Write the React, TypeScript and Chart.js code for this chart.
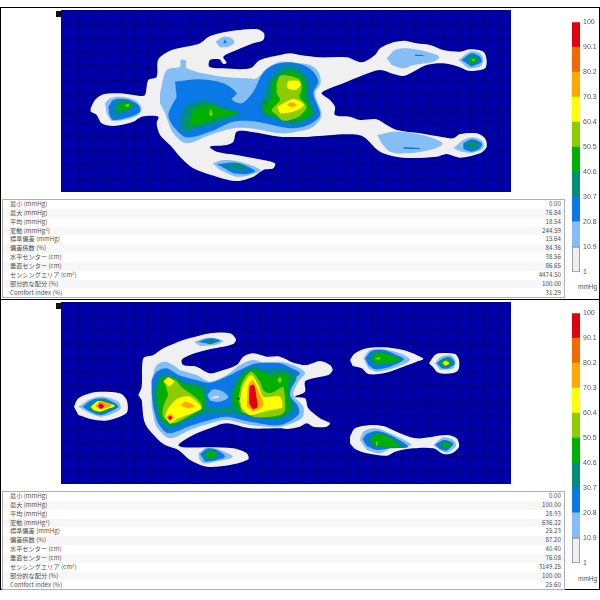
import React, { useEffect, useRef } from "react";
import { Chart, registerables } from "chart.js";

Chart.register(...registerables);

type Pt = [number, number];
type Poly = Pt[];

// Colour band palette, lowest to highest
const bandEdges = [1, 10.9, 20.8, 30.7, 40.6, 50.5, 60.4, 70.3, 80.2, 90.1, 100];
const bandLabels = ["1", "10.9", "20.8", "30.7", "40.6", "50.5", "60.4", "70.3", "80.2", "90.1", "100"];
const bandColors = ["#f0f0f0", "#85bdf5", "#0a78e6", "#008f78", "#00b000", "#8ccc00", "#ffff00", "#fba800", "#f06a00", "#e00010"];
const spotColor = "#1f6a4a";

const metricLabels = ["最小 (mmHg)", "最大 (mmHg)", "平均 (mmHg)", "変動 (mmHg²)", "標準偏差 (mmHg)", "偏差係数 (%)", "水平センター (cm)", "垂直センター (cm)", "センシングエリア (cm²)", "部分的な配分 (%)", "Comfort index (%)"];
const topValues = ["0.00", "76.84", "18.54", "244.59", "15.64", "84.36", "38.56", "86.65", "4474.50", "100.00", "31.29"];
const bottomValues = ["0.00", "100.00", "28.93", "636.22", "25.23", "87.20", "40.40", "76.08", "3149.25", "100.00", "25.60"];

// Top map: contour outlines for each pressure band
const topWhite: Poly[] = [[[122,325],[135,300],[160,283],[210,280],[270,288],[285,285],[295,240],[320,230],[325,178],[365,150],[420,138],[450,130],[480,108],[530,95],[620,87],[642,100],[640,120],[610,130],[560,150],[520,170],[530,188],[520,192],[508,178],[480,180],[478,200],[520,205],[600,205],[630,180],[690,165],[720,160],[750,165],[810,172],[890,172],[935,187],[975,165],[990,145],[1030,127],[1065,122],[1100,130],[1140,135],[1180,150],[1230,155],[1260,148],[1300,155],[1310,180],[1305,205],[1260,213],[1225,200],[1180,190],[1130,195],[1090,215],[1060,228],[1030,222],[990,210],[940,225],[880,250],[840,265],[815,280],[840,300],[855,320],[855,345],[900,350],[930,360],[980,358],[1010,375],[1040,390],[1110,400],[1180,412],[1210,415],[1230,402],[1280,400],[1305,415],[1310,440],[1290,460],[1230,473],[1190,462],[1160,470],[1060,473],[990,455],[940,410],[890,403],[780,410],[690,410],[600,395],[560,395],[550,425],[530,435],[480,440],[500,455],[560,465],[640,480],[675,490],[670,505],[640,510],[610,530],[560,543],[500,530],[430,505],[390,470],[365,440],[330,405],[320,370],[325,350],[275,350],[250,365],[190,378],[155,370],[140,345],[122,335]]];
const topLight: Poly[] = [
  [[165,310],[180,295],[210,290],[255,300],[275,325],[265,345],[230,358],[185,362],[170,340]],
  [[497,125],[520,110],[545,115],[553,128],[535,140],[510,142]],
  [[330,280],[350,210],[390,200],[392,180],[408,182],[410,205],[500,228],[590,235],[620,235],[650,205],[690,185],[730,188],[780,195],[805,215],[812,250],[795,280],[815,345],[790,380],[740,395],[690,400],[600,385],[550,385],[480,405],[410,430],[370,400],[345,340],[330,310]],
  [[1010,175],[1035,150],[1070,145],[1130,155],[1168,170],[1150,185],[1090,195],[1060,205],[1025,195]],
  [[1225,180],[1260,155],[1290,160],[1300,180],[1290,200],[1255,205]],
  [[982,405],[1030,395],[1090,400],[1150,415],[1178,432],[1140,450],[1070,460],[1020,455],[995,430]],
  [[1210,445],[1240,420],[1270,412],[1298,425],[1300,445],[1270,458],[1235,455]],
  [[488,490],[520,480],[570,485],[632,510],[600,525],[560,530],[510,510]],
];
const topBlue: Poly[] = [
  [[175,320],[190,300],[230,298],[265,315],[270,335],[240,350],[190,360],[178,345]],
  [[520,130],[525,118],[530,130]],
  [[375,245],[450,238],[520,250],[560,280],[545,298],[575,310],[610,275],[635,225],[660,200],[690,190],[720,187],[760,195],[790,215],[805,245],[790,280],[810,345],[775,375],[730,385],[690,380],[620,365],[550,365],[480,395],[410,412],[375,385],[355,345],[380,290]],
  [[500,492],[560,488],[615,512],[590,522],[550,520]],
  [[1235,180],[1265,160],[1290,170],[1295,185],[1265,200]],
  [[1240,430],[1265,418],[1295,430],[1290,445],[1265,455],[1240,447]],
  [[1095,164],[1120,165],[1120,168],[1095,168]],
  [[1060,442],[1110,444],[1110,447],[1060,446]],
];
const topTeal: Poly[] = [
  [[195,310],[210,298],[240,305],[252,320],[225,335],[195,345],[190,325]],
  [[405,320],[460,300],[530,325],[570,340],[500,370],[440,385],[400,395],[390,370]],
  [[640,290],[660,240],[690,205],[720,195],[750,210],[778,240],[775,285],[795,340],[770,362],[730,375],[690,362],[640,345],[630,320]],
  [[1248,180],[1265,165],[1287,178],[1270,195]],
  [[1243,435],[1265,422],[1288,433],[1270,448]],
  [[520,495],[565,490],[590,505],[560,510]],
];
const topGreen: Poly[] = [
  [[205,315],[235,310],[248,320],[210,335]],
  [[425,330],[470,315],[530,330],[560,340],[500,355],[440,375],[415,375],[425,350]],
  [[665,290],[665,250],[690,225],[720,215],[750,225],[765,255],[765,290],[785,340],[745,360],[690,355],[650,340],[640,320]],
  [[1255,180],[1268,170],[1282,180],[1268,190]],
];
const topLime: Poly[] = [
  [[225,315],[235,312],[238,318],[228,320]],
  [[478,340],[482,328],[488,345],[480,348]],
  [[680,250],[690,228],[720,228],[750,240],[755,270],[748,290],[770,320],[745,350],[700,362],[680,345],[665,330],[690,300],[680,280]],
  [[1265,180],[1270,176],[1275,180],[1270,184]],
];
const topYellow: Poly[] = [
  [[712,250],[715,243],[745,243],[752,255],[735,270],[712,265]],
  [[682,320],[720,300],[735,297],[762,315],[730,335],[690,340]],
];
const topOrange: Poly[] = [[[710,315],[725,307],[740,315],[725,322]]];
const topSpot: Poly[] = [[[640,310],[645,305],[651,310],[645,316]]];

// Bottom map: contour outlines for each pressure band
const bottomWhite: Poly[] = [
  [[72,320],[85,295],[125,278],[160,275],[210,280],[230,300],[232,335],[210,350],[165,362],[125,358],[85,345]],
  [[265,285],[275,260],[280,175],[310,165],[340,145],[400,120],[430,112],[480,100],[540,100],[558,118],[550,132],[510,142],[470,150],[420,165],[395,180],[400,195],[440,200],[480,220],[520,210],[560,195],[580,170],[610,160],[650,170],[690,170],[730,188],[770,195],[810,183],[840,195],[848,210],[835,225],[790,235],[765,245],[765,275],[735,290],[765,295],[775,325],[810,355],[840,370],[830,380],[790,380],[770,370],[750,380],[710,387],[690,385],[600,385],[530,370],[480,385],[420,410],[385,435],[400,442],[480,442],[550,445],[590,460],[595,478],[540,495],[470,500],[420,480],[385,450],[345,435],[320,415],[285,370],[275,300]],
  [[900,180],[915,160],[950,145],[1000,142],[1060,150],[1100,165],[1120,177],[1100,185],[1060,200],[1000,220],[955,222],[935,205],[908,198]],
  [[1137,190],[1150,170],[1165,160],[1215,162],[1227,180],[1225,210],[1205,220],[1165,218],[1148,200]],
  [[900,410],[915,385],[960,375],[1000,378],[1040,395],[1100,415],[1190,405],[1220,415],[1227,440],[1205,460],[1180,462],[1150,445],[1090,445],[1035,455],[1010,467],[950,460],[915,447],[900,430]],
];
const bottomLight: Poly[] = [
  [[85,320],[120,298],[160,290],[205,305],[212,325],[190,340],[150,350],[110,335]],
  [[305,240],[320,195],[345,185],[370,195],[390,210],[440,225],[480,245],[530,225],[570,195],[610,180],[650,190],[690,185],[730,195],[765,218],[745,245],[730,285],[760,320],[755,355],[690,380],[600,375],[530,360],[480,370],[420,390],[360,415],[320,380],[305,320]],
  [[432,125],[475,113],[520,122],[495,135],[450,138]],
  [[445,460],[470,443],[510,450],[548,470],[510,482],[460,490],[448,478]],
  [[940,175],[960,150],[1000,147],[1050,160],[1080,180],[1030,205],[980,215],[955,205]],
  [[1155,190],[1170,172],[1200,165],[1215,180],[1210,205],[1170,210]],
  [[930,420],[940,395],[975,385],[1020,400],[1085,435],[1030,440],[990,460],[950,450]],
  [[1150,435],[1180,412],[1210,420],[1218,438],[1190,458],[1170,450]],
];
const bottomBlue: Poly[] = [
  [[98,320],[125,300],[160,295],[195,310],[205,320],[180,335],[150,345],[115,332]],
  [[305,240],[320,215],[350,205],[385,225],[440,240],[480,248],[540,225],[580,205],[620,190],[690,190],[725,205],[750,220],[735,235],[720,285],[745,320],[745,345],[690,375],[600,365],[530,350],[480,360],[420,378],[355,400],[325,370],[310,320],[305,280]],
  [[445,125],[480,115],[510,122],[480,133]],
  [[450,462],[475,445],[505,452],[525,470],[490,482],[465,485]],
  [[945,175],[965,153],[1000,150],[1040,165],[1062,178],[1020,200],[975,208],[955,195]],
  [[1160,190],[1180,175],[1200,172],[1215,190],[1195,205],[1175,205]],
  [[938,418],[950,402],[980,393],[1020,405],[1075,440],[1020,445],[980,450],[950,438]],
  [[1155,435],[1180,420],[1210,430],[1190,452],[1170,448]],
];
const bottomTeal: Poly[] = [
  [[110,320],[135,303],[165,300],[200,318],[170,335],[150,340],[125,333]],
  [[310,275],[325,235],[345,222],[375,230],[410,248],[470,260],[465,315],[500,325],[540,315],[545,270],[575,220],[610,200],[640,210],[690,205],[720,215],[740,232],[718,280],[735,325],[690,358],[600,350],[530,340],[470,340],[420,358],[360,385],[330,360],[315,320]],
  [[465,124],[482,118],[497,125],[480,132]],
  [[460,462],[480,448],[505,460],[495,475],[470,478]],
  [[955,175],[980,155],[1015,160],[1055,182],[1015,190],[975,195]],
  [[1165,190],[1185,175],[1208,190],[1187,203]],
  [[952,420],[980,398],[1015,408],[1060,440],[1015,442],[975,442]],
  [[1165,435],[1185,422],[1210,432],[1187,448]],
];
const bottomBlueGap: Poly[] = [[[470,250],[540,245],[545,270],[540,315],[500,325],[465,315]]];
const bottomLightHole: Poly[] = [[[472,285],[490,268],[520,275],[535,292],[510,305],[480,302]]];
const bottomWhiteCore: Poly[] = [[[482,292],[505,288],[505,293],[485,295]]];
const bottomGreen: Poly[] = [
  [[320,275],[335,235],[365,232],[400,252],[455,270],[465,310],[450,335],[410,355],[365,375],[335,355],[325,320]],
  [[545,300],[560,255],[590,215],[625,210],[660,225],[715,225],[710,270],[720,325],[690,350],[640,350],[570,335]],
  [[467,462],[483,452],[500,462],[490,472],[470,473]],
  [[965,175],[980,158],[1010,163],[1050,180],[1015,188],[980,192]],
  [[1170,190],[1187,178],[1203,190],[1187,200]],
  [[960,420],[980,403],[1015,412],[1045,440],[1010,440],[980,438]],
  [[1175,435],[1187,428],[1198,435],[1187,442]],
];
const bottomLime: Poly[] = [
  [[342,240],[375,240],[395,262],[440,295],[455,320],[430,340],[370,370],[340,350],[340,320],[355,285]],
  [[565,300],[575,250],[603,215],[630,245],[640,270],[660,280],[690,265],[700,260],[705,330],[690,345],[620,352],[575,335]],
  [[682,240],[690,230],[695,240],[690,250]],
  [[975,175],[990,172],[990,178],[977,178]],
  [[978,425],[982,425],[982,437],[978,437]],
];
const bottomYellow: Poly[] = [
  [[122,320],[145,303],[175,310],[195,318],[170,328],[150,335],[130,330]],
  [[340,245],[355,232],[372,245],[358,260]],
  [[345,350],[355,325],[385,295],[420,290],[445,310],[455,325],[430,338],[385,355],[360,372]],
  [[570,300],[580,255],[603,225],[625,255],[640,290],[665,290],[690,290],[698,320],[690,325],[640,335],[600,345],[575,325]],
  [[1177,190],[1187,182],[1198,190],[1187,197]],
];
const bottomOrange: Poly[] = [
  [[135,318],[150,305],[180,312],[185,318],[165,325],[150,328]],
  [[392,318],[405,305],[435,318],[415,325]],
  [[348,352],[360,342],[372,352],[360,365]],
  [[590,320],[595,255],[608,240],[620,260],[640,315],[610,335]],
];
const bottomRed: Poly[] = [
  [[143,318],[152,310],[162,320],[152,327]],
  [[353,353],[360,347],[367,353],[360,360]],
  [[597,310],[600,258],[612,255],[620,295],[622,322],[608,328]],
];
const bottomSpot: Poly[] = [[[560,296],[565,291],[570,296],[565,301]]];

const topLayers: [string, Poly[]][] = [
  [bandColors[0], topWhite], [bandColors[1], topLight], [bandColors[2], topBlue], [bandColors[3], topTeal],
  [bandColors[4], topGreen], [bandColors[5], topLime], [bandColors[6], topYellow], [bandColors[7], topOrange], [spotColor, topSpot],
];
const bottomLayers: [string, Poly[]][] = [
  [bandColors[0], bottomWhite], [bandColors[1], bottomLight], [bandColors[2], bottomBlue], [bandColors[3], bottomTeal],
  [bandColors[2], bottomBlueGap], [bandColors[1], bottomLightHole], [bandColors[0], bottomWhiteCore],
  [bandColors[4], bottomGreen], [bandColors[5], bottomLime], [bandColors[6], bottomYellow], [bandColors[7], bottomOrange], [bandColors[9], bottomRed], [spotColor, bottomSpot],
];

function PressureMap({ layers, yMin, top }: { layers: [string, Poly[]][]; yMin: number; top: number }) {
  const ref = useRef<HTMLCanvasElement>(null);
  useEffect(() => {
    const datasets: any[] = [];
    layers.forEach(([color, polys]) => {
      polys.forEach((poly) => {
        datasets.push({
          data: poly.map(([x, y]) => ({ x, y })),
          showLine: true,
          fill: "shape",
          backgroundColor: color,
          borderWidth: 0,
          borderColor: "transparent",
          pointRadius: 0,
          tension: 0.3,
        });
      });
    });
    datasets.reverse();
    const gridOpts = { color: "#000088", lineWidth: 1, drawTicks: false };
    const chart = new Chart(ref.current!, {
      type: "scatter",
      data: { datasets },
      options: {
        animation: false,
        responsive: false,
        devicePixelRatio: 1,
        layout: { padding: 0, autoPadding: false },
        plugins: { legend: { display: false }, tooltip: { enabled: false } },
        scales: {
          x: { type: "linear", min: 33, max: 1383, grid: gridOpts, border: { display: false }, ticks: { display: false, stepSize: 21, autoSkip: false } },
          y: { type: "linear", reverse: true, min: yMin, max: yMin + 546, grid: gridOpts, border: { display: false }, ticks: { display: false, stepSize: 21, autoSkip: false } },
        },
      },
    } as any);
    return () => chart.destroy();
  }, []);
  return (
    <canvas
      ref={ref}
      width={450}
      height={182}
      style={{ position: "absolute", left: 61, top, width: 450, height: 182, background: "#0000aa", filter: "blur(0.4px)", display: "block" }}
    />
  );
}

function ColorBar({ top }: { top: number }) {
  const ref = useRef<HTMLCanvasElement>(null);
  useEffect(() => {
    const datasets = bandColors.map((color, i) => ({
      data: [[bandEdges[i], bandEdges[i + 1]]],
      backgroundColor: color,
      borderColor: i === 0 ? "#777777" : color,
      borderWidth: i === 0 ? 1 : 0,
      borderSkipped: false,
      grouped: false,
      barPercentage: 1,
      categoryPercentage: 1,
    }));
    const chart = new Chart(ref.current!, {
      type: "bar",
      data: { labels: ["mmHg"], datasets },
      options: {
        animation: false,
        responsive: false,
        devicePixelRatio: 1,
        layout: { padding: { top: 6, bottom: 6, left: 0, right: 0 }, autoPadding: false },
        plugins: { legend: { display: false }, tooltip: { enabled: false } },
        scales: {
          x: { display: false },
          y: {
            position: "right",
            min: 1,
            max: 100,
            grid: { display: false, drawTicks: false, tickLength: 0 },
            border: { display: false },
            afterFit: (s: any) => { s.width = 20; },
            afterBuildTicks: (s: any) => { s.ticks = bandEdges.map((value) => ({ value })); },
            ticks: {
              autoSkip: false,
              padding: 3,
              color: "#555555",
              font: { family: "Liberation Sans", size: 7 },
              callback: (v: any) => bandLabels[bandEdges.indexOf(v)],
            },
          },
        },
      },
    } as any);
    return () => chart.destroy();
  }, []);
  return (
    <canvas
      ref={ref}
      width={28}
      height={264}
      style={{ position: "absolute", left: 572, top, width: 28, height: 264, display: "block" }}
    />
  );
}

function Metrics({ values, top }: { values: string[]; top: number }) {
  return (
    <div style={{ position: "absolute", left: 2, top, width: 561, height: 97, border: "1px solid #b0b0b0", fontFamily: "'Noto Sans CJK JP', 'Noto Sans', sans-serif", fontSize: 6.2, color: "#505050" }}>
      {metricLabels.map((label, i) => (
        <div key={label} style={{ position: "absolute", left: 0, right: 0, top: i * 8.85, height: 8.85, lineHeight: "8.85px", background: i % 2 === 0 ? "#ffffff" : "#f7f7f7" }}>
          <span style={{ position: "absolute", left: 7 }}>{label}</span>
          <span style={{ position: "absolute", right: 3 }}>{values[i]}</span>
        </div>
      ))}
    </div>
  );
}

export default function App() {
  const abs = (s: React.CSSProperties): React.CSSProperties => ({ position: "absolute", ...s });
  return (
    <div style={abs({ left: 0, top: 0, width: 600, height: 600, background: "#fff", overflow: "hidden" })}>
      <div style={abs({ left: 0, top: 7, width: 598, height: 291, border: "1px solid #000" })} />
      <div style={abs({ left: 0, top: 299, width: 598, height: 290, border: "1px solid #000", borderTop: "none" })} />
      <div style={abs({ left: 56, top: 11, width: 6, height: 6, background: "#111" })} />
      <div style={abs({ left: 56, top: 303, width: 6, height: 6, background: "#111" })} />
      <PressureMap layers={topLayers} yMin={30} top={10} />
      <PressureMap layers={bottomLayers} yMin={6} top={302} />
      <ColorBar top={15} />
      <ColorBar top={306} />
      <Metrics values={topValues} top={199} />
      <Metrics values={bottomValues} top={491} />
      <div style={abs({ left: 578, top: 283, fontFamily: "Liberation Sans", fontSize: 6.5, color: "#555" })}>mmHg</div>
      <div style={abs({ left: 578, top: 575, fontFamily: "Liberation Sans", fontSize: 6.5, color: "#555" })}>mmHg</div>
    </div>
  );
}
